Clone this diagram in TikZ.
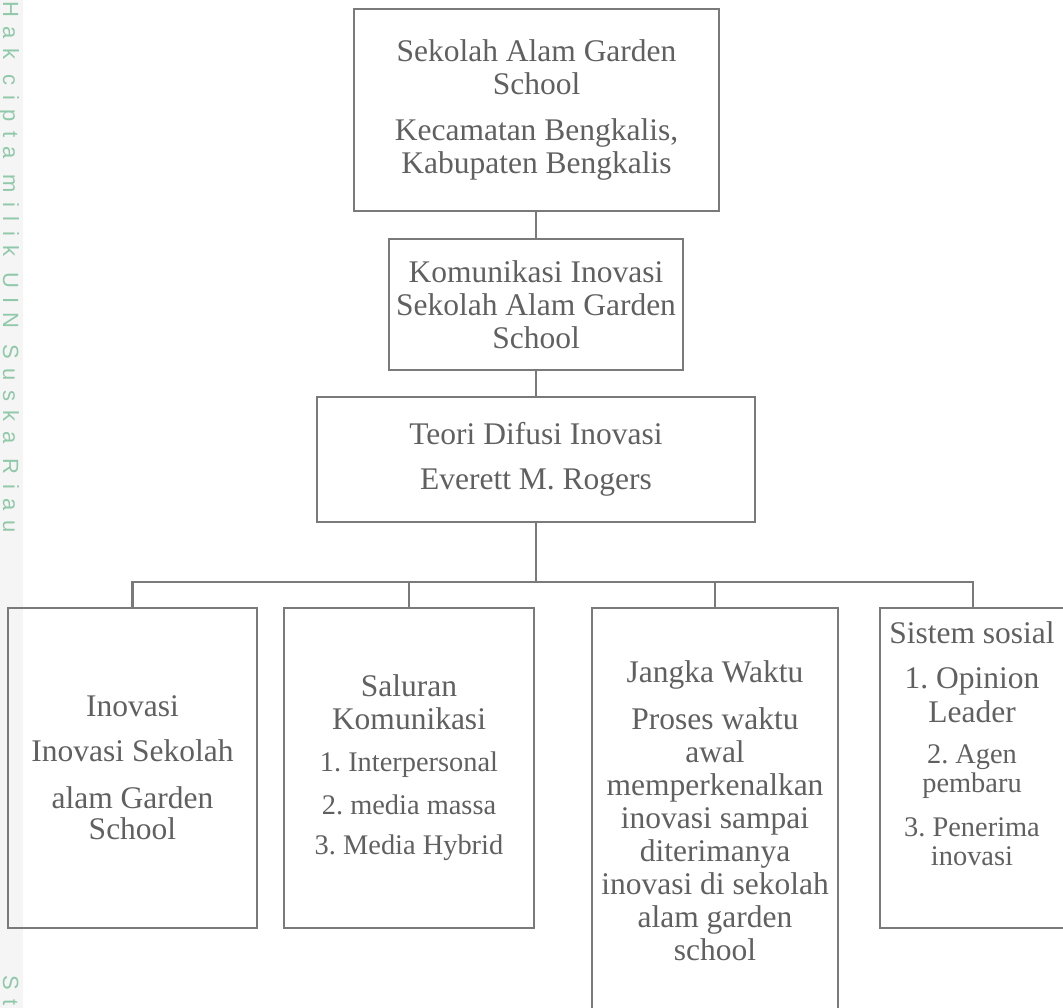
\documentclass[tikz,border=0pt]{standalone}
\usepackage{fontspec}
\setmainfont{Liberation Serif}
\newfontfamily\wmfont[LetterSpace=43]{Liberation Sans}
\definecolor{txt}{HTML}{606060}
\definecolor{edge}{HTML}{7A7A7A}
\definecolor{wm}{HTML}{8FC9A9}
\newcommand\fbig{\fontsize{31.5}{33}\selectfont\frenchspacing}
\newcommand\fsmall{\fontsize{28.4}{26}\selectfont\frenchspacing}
\begin{document}
\frenchspacing
\begin{tikzpicture}[x=1pt,y=-1pt,
  box/.style={draw=edge, line width=2.2pt, inner sep=0pt, align=center, text=txt, font=\fbig},
  lbl/.style={inner sep=0pt, align=center, text=txt, font=\fbig},
  link/.style={draw=edge, line width=2.2pt},
  wmtext/.style={text=wm, font=\wmfont\fontsize{22}{22}\selectfont, inner sep=0pt, rotate=-90, anchor=base west}]
\useasboundingbox (0,0) rectangle (1063,1008);
\fill[black!4] (0,0) rectangle (23,1008);
\node[wmtext] (wm1) at (3,1) {Hak cipta milik UIN Suska Riau};
\node[wmtext] (wm2) at (3,975) {St};

\node[box, minimum width=365pt, minimum height=202pt] (top) at (536.5,110)
  {Sekolah Alam Garden\\School\\[13pt]Kecamatan Bengkalis,\\Kabupaten Bengkalis};
\node[box, minimum width=294pt, minimum height=131pt] (kom) at (536,304.5)
  {Komunikasi Inovasi\\Sekolah Alam Garden\\School};
\node[box, minimum width=438pt, minimum height=125pt] (teori) at (536,459.5)
  {Teori Difusi Inovasi\\[12pt]Everett M. Rogers};

\node[box, minimum width=249pt, minimum height=320pt] (ino) at (132.5,768)
  {Inovasi\\[12pt]Inovasi Sekolah\\[14pt]alam Garden\\[-2pt]School};
\node[box, minimum width=250pt, minimum height=320pt] (sal) at (409,768)
  {Saluran\\Komunikasi\\[9pt]{\fsmall 1. Interpersonal}\\[10pt]{\fsmall 2. media massa}\\[7pt]{\fsmall 3. Media Hybrid}};
\node[box, minimum width=246pt, minimum height=406pt] (jw) at (715,811)
  {Jangka Waktu\\[14pt]Proses waktu\\awal\\memperkenalkan\\inovasi sampai\\diterimanya\\inovasi di sekolah\\alam garden\\school};
\node[box, minimum width=186pt, minimum height=320pt] (sis) at (973,768) {};
\node[lbl, anchor=north] (sistxt) at (972,621)
  {Sistem sosial\\[12pt]1. Opinion\\[1pt]Leader\\[8pt]{\fsmall 2. Agen}\\[-4pt]{\fsmall pembaru}\\[11pt]{\fsmall 3. Penerima}\\[-4pt]{\fsmall inovasi}};

\coordinate (hub) at (536,582);
\draw[link] (kom.north) -- (kom.north |- top.south);
\draw[link] (teori.north) -- (teori.north |- kom.south);
\draw[link] (teori.south) -- (hub);
\draw[link] (hub) -| (ino.north);
\draw[link] (hub) -| (sal.north);
\draw[link] (hub) -| (jw.north);
\draw[link] (hub) -| (sis.north);
\end{tikzpicture}
\end{document}
